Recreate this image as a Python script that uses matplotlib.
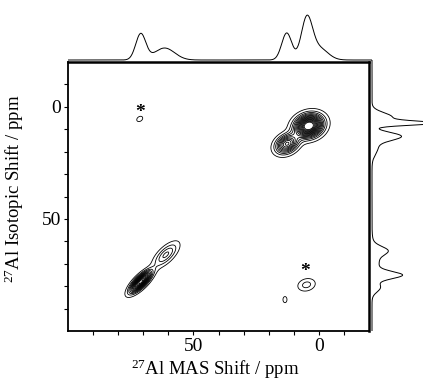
import numpy as np
import matplotlib
matplotlib.use("Agg")
import matplotlib.pyplot as plt

plt.rcParams["font.family"] = ["Liberation Serif", "DejaVu Serif"]
plt.rcParams["mathtext.fontset"] = "custom"
plt.rcParams["mathtext.rm"] = "Liberation Serif"
plt.rcParams["mathtext.it"] = "Liberation Serif:italic"

# ---------------------------
# 2D peaks: MAS shift (x), isotopic shift (y), height, widths along/across, tilt (deg)
# ---------------------------
pk_mas = [4.0, 12.7, 71.0, 61.0, 71.4, 4.9, 13.5]
pk_iso = [8.5, 16.5, 78.0, 66.0, 5.4, 79.4, 86.0]
pk_amp = [1.00, 0.55, 0.85, 0.22, 0.060, 0.120, 0.055]
pk_su = [3.5, 3.1, 3.6, 4.2, 1.5, 2.4, 1.0]
pk_sv = [2.9, 2.3, 1.3, 1.8, 1.1, 1.8, 1.7]
pk_ang = [30.0, 40.0, 49.0, 49.0, 45.0, 20.0, 0.0]

# 1D projections: position (ppm), height, gaussian width (ppm)
top_pos = [71.0, 61.5, 12.8, 4.8, 0.0]
top_amp = [26.0, 12.0, 27.0, 40.0, 12.0]
top_wid = [2.0, 4.0, 2.0, 2.2, 3.5]

right_pos = [5.5, 8.2, 14.0, 19.0, 65.0, 70.0, 76.0, 81.5]
right_amp = [20.0, 56.0, 28.0, 6.0, 12.0, 7.0, 27.0, 8.0]
right_wid = [2.0, 0.9, 1.8, 3.0, 1.8, 5.0, 1.6, 2.0]

# axis ticks
x_ticks = [90, 80, 70, 60, 50, 40, 30, 20, 10, 0, -10]
y_ticks = [-10, 0, 10, 20, 30, 40, 50, 60, 70, 80, 90]
tick_labels = {0: "0", 50: "50"}

# asterisks marking spinning sidebands
star_mas = [71.4, 5.6]
star_iso = [2.5, 73.6]


def gauss_sum(axis, pos, amp, wid):
    out = np.zeros_like(axis)
    for p, a, w in zip(pos, amp, wid):
        out += a * np.exp(-(axis - p) ** 2 / (2 * w ** 2))
    return out


def spectrum_2d(X, Y):
    Z = np.zeros_like(X)
    for x0, y0, a, su, sv, ang in zip(pk_mas, pk_iso, pk_amp, pk_su, pk_sv, pk_ang):
        t = np.deg2rad(ang)
        u = (X - x0) * np.cos(t) + (Y - y0) * np.sin(t)
        v = -(X - x0) * np.sin(t) + (Y - y0) * np.cos(t)
        Z += a * np.exp(-u ** 2 / (2 * su ** 2) - v ** 2 / (2 * sv ** 2))
    return Z


xs = np.linspace(-20, 100, 700)
ys = np.linspace(-20, 100, 700)
X, Y = np.meshgrid(xs, ys)
Z = spectrum_2d(X, Y)
levels = 0.04 + 0.055 * np.arange(16)

W, H = 423, 383
fig = plt.figure(figsize=(W / 100, H / 100), dpi=100)

ax = fig.add_axes([68 / W, 52 / H, 301 / W, 269 / H])
ax.contour(X, Y, Z, levels=levels, colors="black", linewidths=0.6)
ax.set_xlim(100, -20)
ax.set_ylim(100, -20)

ax.set_xticks(x_ticks)
ax.set_xticklabels([tick_labels.get(t, "") for t in x_ticks])
ax.set_yticks(y_ticks)
ax.set_yticklabels([tick_labels.get(t, "") for t in y_ticks])
ax.tick_params(direction="out", length=3, width=0.8, labelsize=14, pad=2)
for s in ax.spines.values():
    s.set_linewidth(1.3)
ax.spines["top"].set_linewidth(1.8)
ax.spines["right"].set_linewidth(1.8)

for sx, sy in zip(star_mas, star_iso):
    ax.text(sx, sy, "*", ha="center", va="center", fontsize=14, fontweight="bold")

ax.set_xlabel(r"$^{27}$Al MAS Shift / ppm", fontsize=13.5)
ax.xaxis.set_label_coords(0.49, -0.0985)
ax.set_ylabel(r"$^{27}$Al Isotopic Shift / ppm", fontsize=13.5)
ax.yaxis.set_label_coords(-0.1395, 0.53)

# top projection (MAS dimension)
axt = fig.add_axes([68 / W, (H - 62) / H, 304 / W, 62 / H])
xt = np.linspace(100, -21, 800)
axt.plot(xt, gauss_sum(xt, top_pos, top_amp, top_wid), color="black", lw=0.7)
axt.set_xlim(100, -20 - 3 / 2.52)
axt.set_ylim(-2, 60)
axt.axis("off")

# right projection (isotopic dimension)
axr = fig.add_axes([369 / W, 52 / H, 60 / W, 271 / H])
yr = np.linspace(-20, 101, 800)
axr.plot(gauss_sum(yr, right_pos, right_amp, right_wid), yr, color="black", lw=0.7)
axr.set_xlim(-3, 57)
axr.set_ylim(100.9, -20)
axr.axis("off")

fig.savefig("out.png", dpi=100)
